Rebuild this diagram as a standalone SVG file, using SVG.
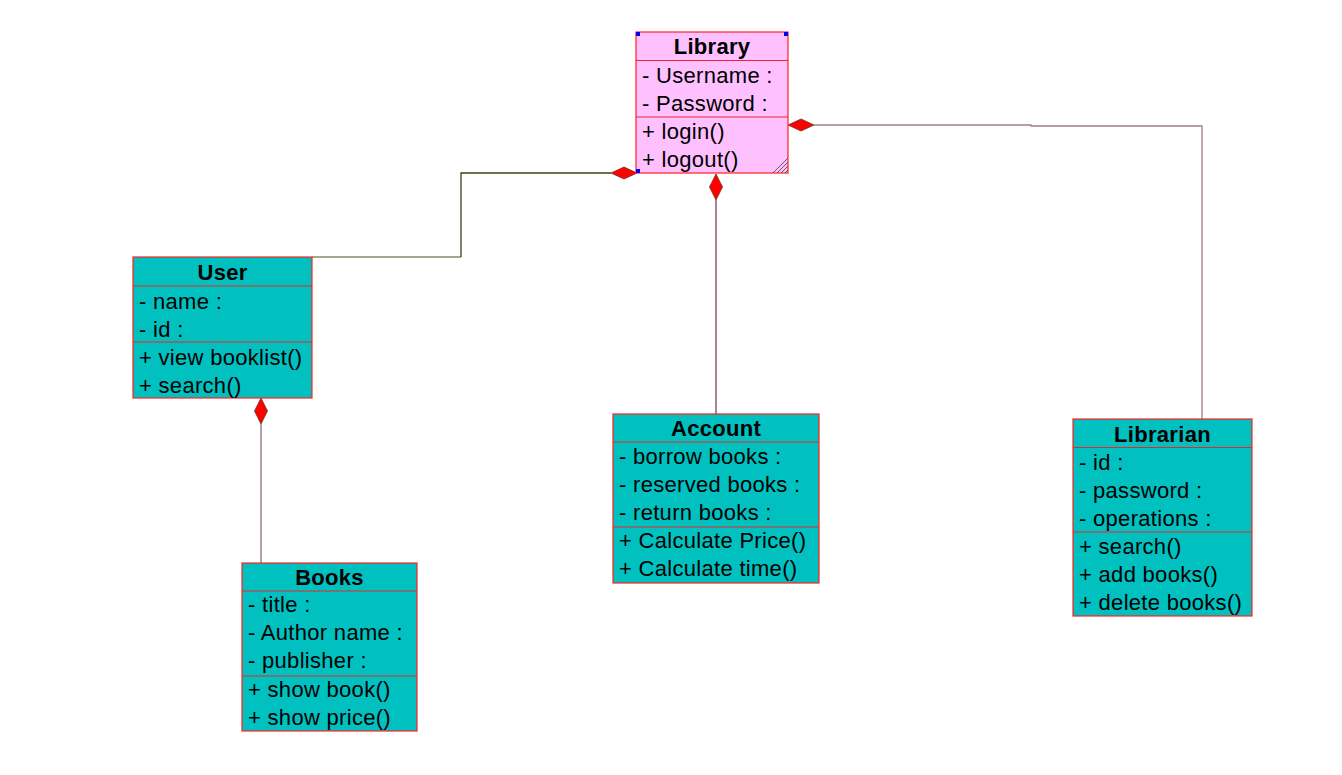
<svg xmlns="http://www.w3.org/2000/svg" width="1342" height="775" viewBox="0 0 1342 775">
<style>
.box{stroke:#ff2020;stroke-width:1.2}
.pink{fill:#ffc0ff}
.teal{fill:#00c0c0}
.div{stroke:#e82828;stroke-width:1.2}
text{font-family:"Liberation Sans",Arial,sans-serif;font-size:22px;letter-spacing:0.3px;fill:#000}
.t{font-weight:bold;text-anchor:middle}
.dia{fill:#ff0000;stroke:#703020;stroke-width:0.8}
.ln{fill:none;stroke-width:1.3}
</style>
<rect width="1342" height="775" fill="#ffffff"/>
<g id="connectors">
<polyline class="ln" points="312,257 461,257" stroke="#8a8a68"/>
<polyline class="ln" points="461,257 461,173 611,173" stroke="#404010"/>
<polygon class="dia" points="637,173 624,167 611,173 624,179"/>
<line class="ln" x1="716" y1="200" x2="716" y2="414" stroke="#804050"/>
<polygon class="dia" points="716,174 722.5,187 716,200 709.5,187"/>
<polyline class="ln" points="814,125 1031,125 1031,126 1202,126 1202,419" stroke="#a08080"/>
<polygon class="dia" points="788,125 801,119 814,125 801,131"/>
<line class="ln" x1="261" y1="424" x2="261" y2="563" stroke="#907070"/>
<polygon class="dia" points="261,398 267.5,411 261,424 254.5,411"/>
</g>
<g id="library">
<rect class="box pink" x="636" y="32" width="152" height="141"/>
<line class="div" x1="636" y1="60.5" x2="788" y2="60.5"/>
<line class="div" x1="636" y1="117" x2="788" y2="117"/>
<text class="t" x="712" y="54">Library</text>
<text x="642" y="83">- Username :</text>
<text x="642" y="111">- Password :</text>
<text x="642" y="139">+ login()</text>
<text x="642" y="167">+ logout()</text>
<rect x="636" y="32" width="4" height="4" fill="#0000ff"/>
<rect x="784" y="32" width="4" height="4" fill="#0000ff"/>
<rect x="636" y="169" width="4" height="4" fill="#0000ff"/>
<g stroke="#404040" stroke-width="0.8">
<line x1="773" y1="173" x2="788" y2="158"/>
<line x1="777" y1="173" x2="788" y2="162"/>
<line x1="781" y1="173" x2="788" y2="166"/>
<line x1="785" y1="173" x2="788" y2="170"/>
</g>
</g>
<g id="user">
<rect class="box teal" x="133" y="257" width="179" height="141"/>
<line class="div" x1="133" y1="286" x2="312" y2="286"/>
<line class="div" x1="133" y1="342" x2="312" y2="342"/>
<text class="t" x="222.5" y="280">User</text>
<text x="139" y="309">- name :</text>
<text x="139" y="337">- id :</text>
<text x="139" y="365">+ view booklist()</text>
<text x="139" y="393">+ search()</text>
</g>
<g id="account">
<rect class="box teal" x="613" y="414" width="206" height="169"/>
<line class="div" x1="613" y1="442" x2="819" y2="442"/>
<line class="div" x1="613" y1="527" x2="819" y2="527"/>
<text class="t" x="716" y="436">Account</text>
<text x="619" y="464">- borrow books :</text>
<text x="619" y="492">- reserved books :</text>
<text x="619" y="520">- return books :</text>
<text x="619" y="548">+ Calculate Price()</text>
<text x="619" y="576">+ Calculate time()</text>
</g>
<g id="librarian">
<rect class="box teal" x="1073" y="419" width="179" height="197"/>
<line class="div" x1="1073" y1="447.5" x2="1252" y2="447.5"/>
<line class="div" x1="1073" y1="532" x2="1252" y2="532"/>
<text class="t" x="1162.5" y="442">Librarian</text>
<text x="1079" y="470">- id :</text>
<text x="1079" y="498">- password :</text>
<text x="1079" y="526">- operations :</text>
<text x="1079" y="554">+ search()</text>
<text x="1079" y="582">+ add books()</text>
<text x="1079" y="610">+ delete books()</text>
</g>
<g id="books">
<rect class="box teal" x="242" y="563" width="175" height="168"/>
<line class="div" x1="242" y1="591" x2="417" y2="591"/>
<line class="div" x1="242" y1="676" x2="417" y2="676"/>
<text class="t" x="329.5" y="585">Books</text>
<text x="248" y="612">- title :</text>
<text x="248" y="640">- Author name :</text>
<text x="248" y="668">- publisher :</text>
<text x="248" y="697">+ show book()</text>
<text x="248" y="725">+ show price()</text>
</g>
</svg>
